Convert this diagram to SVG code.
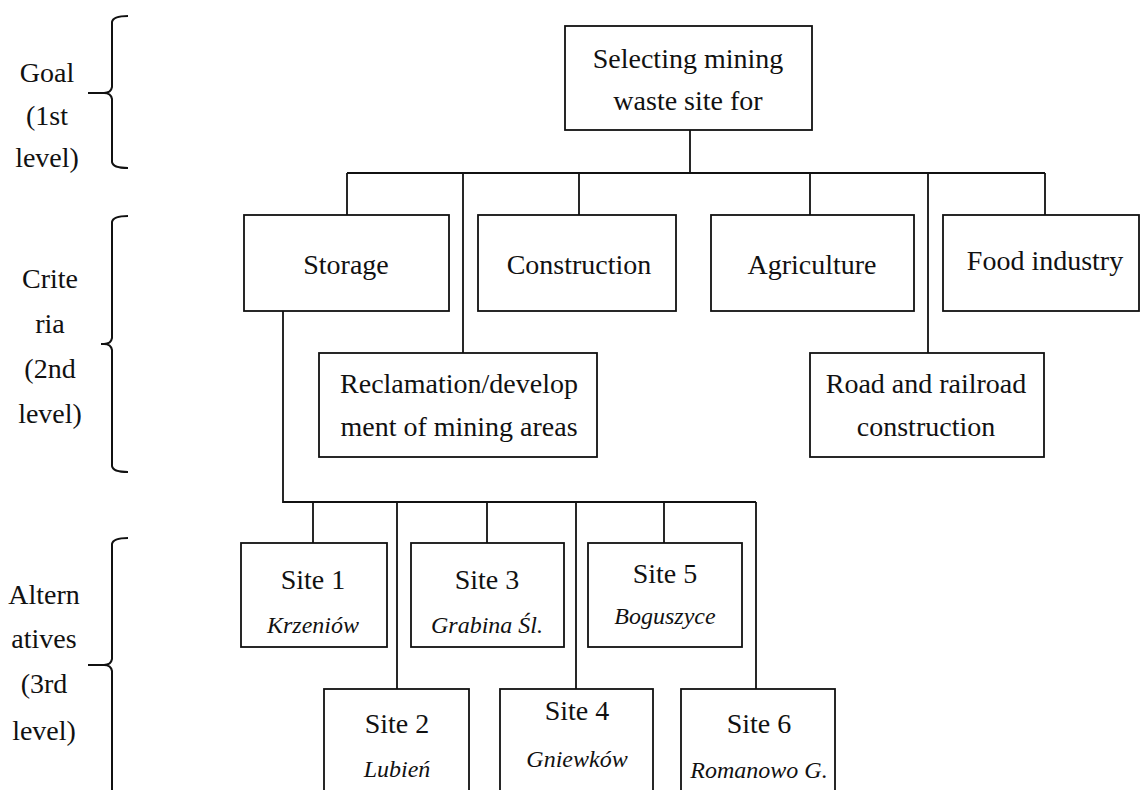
<svg xmlns="http://www.w3.org/2000/svg" width="1140" height="790" viewBox="0 0 1140 790">
<style>
.box{fill:#fff;stroke:#111;stroke-width:1.8}
.ln{fill:none;stroke:#111;stroke-width:1.8}
.br{fill:none;stroke:#111;stroke-width:2}
text{font-family:"Liberation Serif",serif;font-size:28px;fill:#111;text-anchor:middle}
.it{font-style:italic;font-size:24px}
</style>
<rect width="1140" height="790" fill="#fff"/>
<g id="levels">
<path class="br" d="M128,16 Q113,16 112,22 V87 Q111,93 104,93 H88 M104,93 Q111,93 112,99 V162 Q113,168 128,168"/>
<text x="47" y="82">Goal</text>
<text x="47" y="125">(1st</text>
<text x="47" y="167">level)</text>
<path class="br" d="M128,216 Q113,216 112,222 V338 Q111,344 104,344 H101 M104,344 Q111,344 112,350 V466 Q113,472 128,472"/>
<text x="50" y="288">Crite</text>
<text x="50" y="333">ria</text>
<text x="50" y="378">(2nd</text>
<text x="50" y="423">level)</text>
<path class="br" d="M128,538 Q113,538 112,544 V659 Q111,665 104,665 H88 M104,665 Q111,665 112,671 V800"/>
<text x="44" y="604">Altern</text>
<text x="44" y="648">atives</text>
<text x="44" y="693">(3rd</text>
<text x="44" y="740">level)</text>
</g>
<g id="connectors">
<path class="ln" d="M690,130 V173 M347,173 H1045 M347,173 V215 M463,173 V353 M579,173 V215 M810,173 V215 M928,173 V353 M1045,173 V215"/>
<path class="ln" d="M283,311 V502 H756 M313,502 V543 M397,502 V689 M487,502 V543 M576,502 V689 M664,502 V543 M756,502 V689"/>
</g>
<g id="goal">
<rect class="box" x="565" y="26" width="247" height="104"/>
<text x="688" y="68">Selecting mining</text>
<text x="688" y="110">waste site for</text>
</g>
<g id="storage">
<rect class="box" x="244" y="215" width="205" height="96"/>
<text x="346" y="274">Storage</text>
</g>
<g id="construction">
<rect class="box" x="478" y="215" width="198" height="96"/>
<text x="579" y="274">Construction</text>
</g>
<g id="agriculture">
<rect class="box" x="711" y="215" width="203" height="96"/>
<text x="812" y="274">Agriculture</text>
</g>
<g id="food">
<rect class="box" x="943" y="215" width="196" height="96"/>
<text x="1045" y="270">Food industry</text>
</g>
<g id="reclamation">
<rect class="box" x="319" y="353" width="278" height="104"/>
<text x="459" y="393">Reclamation/develop</text>
<text x="459" y="436">ment of mining areas</text>
</g>
<g id="road">
<rect class="box" x="810" y="353" width="234" height="104"/>
<text x="926" y="393">Road and railroad</text>
<text x="926" y="436">construction</text>
</g>
<g id="site1">
<rect class="box" x="241" y="543" width="146" height="104"/>
<text x="313" y="589">Site 1</text>
<text class="it" x="313" y="633">Krzeniów</text>
</g>
<g id="site3">
<rect class="box" x="411" y="543" width="153" height="104"/>
<text x="487" y="589">Site 3</text>
<text class="it" x="487" y="633">Grabina Śl.</text>
</g>
<g id="site5">
<rect class="box" x="588" y="543" width="154" height="104"/>
<text x="665" y="583">Site 5</text>
<text class="it" x="665" y="624">Boguszyce</text>
</g>
<g id="site2">
<rect class="box" x="324" y="689" width="145" height="120"/>
<text x="397" y="733">Site 2</text>
<text class="it" x="397" y="777">Lubień</text>
</g>
<g id="site4">
<rect class="box" x="500" y="689" width="153" height="120"/>
<text x="577" y="720">Site 4</text>
<text class="it" x="577" y="767">Gniewków</text>
</g>
<g id="site6">
<rect class="box" x="681" y="689" width="154" height="120"/>
<text x="759" y="733">Site 6</text>
<text class="it" x="759" y="778">Romanowo G.</text>
</g>
</svg>
